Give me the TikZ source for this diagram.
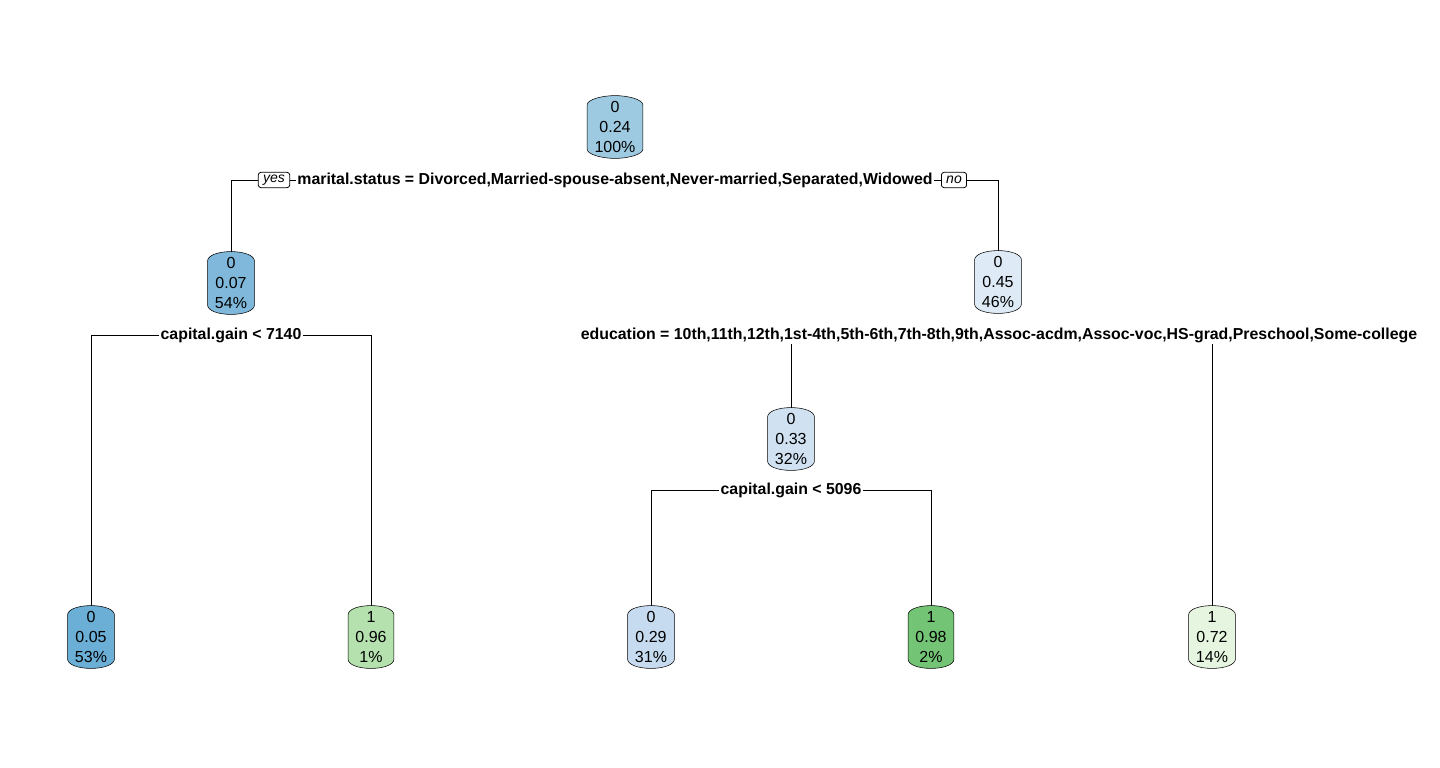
\documentclass[tikz,border=0pt]{standalone}
\usepackage{fontspec}
\setmainfont{Liberation Sans}
\usetikzlibrary{backgrounds}

\definecolor{p05}{HTML}{6BAED6}
\definecolor{p07}{HTML}{7FB8DA}
\definecolor{p24}{HTML}{9ECAE1}
\definecolor{p29}{HTML}{C6DBEF}
\definecolor{p33}{HTML}{D0E2F2}
\definecolor{p45}{HTML}{DEEBF7}
\definecolor{p72}{HTML}{E5F5E0}
\definecolor{p96}{HTML}{B5E1AE}
\definecolor{p98}{HTML}{74C476}

% outline of a tree node: straight sides, arched top and bottom
\newcommand{\canpath}[2]{%
  \draw[fill=#2] ([yshift=7pt]#1.south west) -- ([yshift=-7pt]#1.north west)
    .. controls +(0,4pt) and +(-10pt,0) .. (#1.north)
    .. controls +(10pt,0) and +(0,4pt) .. ([yshift=-7pt]#1.north east)
    -- ([yshift=7pt]#1.south east)
    .. controls +(0,-4pt) and +(10pt,0) .. (#1.south)
    .. controls +(-10pt,0) and +(0,-4pt) .. ([yshift=7pt]#1.south west) -- cycle;}

\begin{document}
\begin{tikzpicture}[x=0.75pt,y=-0.75pt,line width=0.6pt,
        tnode/.style={align=center, font=\fontsize{12}{15}\selectfont, inner xsep=5.25pt, inner ysep=2pt,
        minimum width=33.75pt, minimum height=46.5pt},
        split/.style={font=\fontsize{11.9}{13}\selectfont\bfseries, inner sep=1pt, fill=white},
        yesno/.style={draw, rounded corners=2pt, font=\fontsize{10.5}{11}\selectfont\itshape, inner xsep=3.6pt,
        inner ysep=0.5pt, minimum height=11.5pt}]
    \useasboundingbox (0,0) rectangle (1440,768);
    % nodes
    \node[tnode] (root) at (615,127) {0\\0.24\\100\%};
    \node[tnode] (n2) at (231,283) {0\\0.07\\54\%};
    \node[tnode] (n3) at (998,282) {0\\0.45\\46\%};
    \node[tnode] (n4) at (791,439) {0\\0.33\\32\%};
    \node[tnode] (l1) at (91,637) {0\\0.05\\53\%};
    \node[tnode] (l2) at (371,637) {1\\0.96\\1\%};
    \node[tnode] (l3) at (651,637) {0\\0.29\\31\%};
    \node[tnode] (l4) at (931,637) {1\\0.98\\2\%};
    \node[tnode] (l5) at (1212,637) {1\\0.72\\14\%};
    \begin{scope}[on background layer]
        \foreach \n/\c in {root/p24,n2/p07,n3/p45,n4/p33,l1/p05,l2/p96,l3/p29,l4/p98,l5/p72}
            \canpath{\n}{\c};
    \end{scope}
    % splits
    \node[split] (s1) at (615,180) {marital.status = Divorced,Married-spouse-absent,Never-married,Separated,Widowed};
    \node[yesno] (yes) at (274,180) {yes};
    \node[yesno] (no) at (954,180) {no};
    \node[split] (s2) at (231,335) {capital.gain < 7140};
    \node[split] (s3) at (999,335) {education = 10th,11th,12th,1st-4th,5th-6th,7th-8th,9th,Assoc-acdm,Assoc-voc,HS-grad,Preschool,Some-college};
    \node[split] (s4) at (791,490) {capital.gain < 5096};
    % branches
    \draw (s1.west) -- (yes.east);
    \draw (s1.east) -- (no.west);
    \draw (yes.west) -| (n2.north);
    \draw (no.east) -| (n3.north);
    \draw (s2.west) -| (l1.north);
    \draw (s2.east) -| (l2.north);
    \draw (n4.north |- s3.south) -- (n4.north);
    \draw (l5.north |- s3.south) -- (l5.north);
    \draw (s4.west) -| (l3.north);
    \draw (s4.east) -| (l4.north);
\end{tikzpicture}
\end{document}
